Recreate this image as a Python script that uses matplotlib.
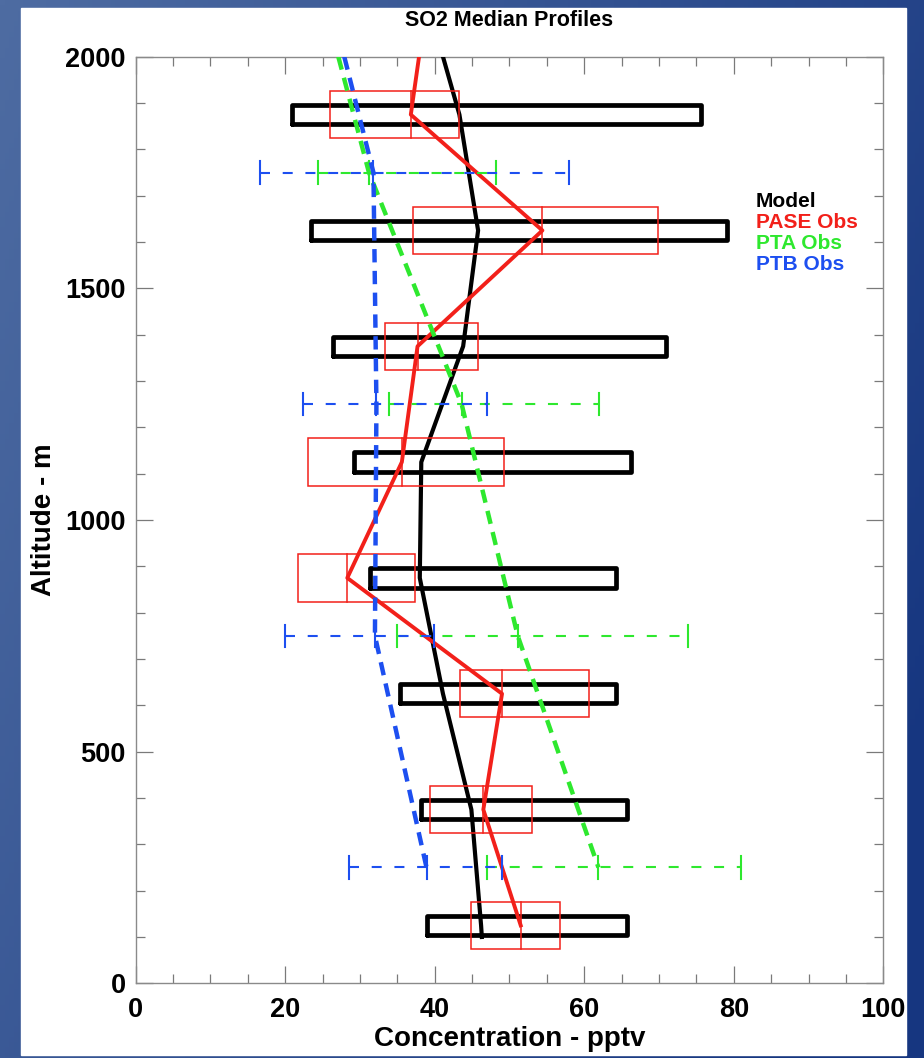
import numpy as np
import matplotlib
matplotlib.use('Agg')
import matplotlib.pyplot as plt
from matplotlib.patches import Rectangle
from matplotlib.ticker import MultipleLocator

plt.rcParams['font.family'] = ['Liberation Sans', 'DejaVu Sans']
plt.rcParams['font.weight'] = 'bold'

# model (black boxes + median line)
model_alt = [1875, 1625, 1375, 1125, 875, 625, 375, 125]
model_lo = [20.9, 23.5, 26.4, 29.2, 31.3, 35.3, 38.2, 38.9]
model_hi = [75.6, 79.1, 70.9, 66.2, 64.3, 64.2, 65.7, 65.7]
model_line_alt = [2000, 1875, 1625, 1375, 1125, 875, 625, 375, 125, 100]
model_line_val = [41.1, 43.3, 45.8, 43.8, 38.2, 38.0, 41.1, 44.9, 46.2, 46.3]

# PASE obs (red boxes)
pase_alt = [1875, 1625, 1375, 1125, 875, 625, 375, 125]
pase_lo = [26.0, 37.1, 33.3, 23.0, 21.7, 43.4, 39.3, 44.9]
pase_med = [36.8, 54.4, 37.7, 35.6, 28.3, 49.0, 46.5, 51.5]
pase_hi = [43.2, 69.8, 45.8, 49.3, 37.4, 60.6, 53.0, 56.8]
pase_top = 37.9  # where the red line leaves the top of the plot

# PTA / PTB obs (dashed ranges)
pt_alt = [1750, 1250, 750, 250]
pta_lo = [24.4, 33.9, 34.9, 47.0]
pta_med = [31.2, 43.6, 51.1, 61.9]
pta_hi = [48.2, 62.0, 73.9, 81.0]
pta_top = 27.1
ptb_lo = [16.6, 22.4, 20.0, 28.5]
ptb_med = [31.8, 32.2, 32.0, 38.9]
ptb_hi = [58.0, 47.0, 39.9, 49.0]
ptb_top = 27.9

legend_names = ['Model', 'PASE Obs', 'PTA Obs', 'PTB Obs']

RED = '#f2201a'
GREEN = '#2ee82e'
BLUE = '#1d4ff0'
colors = ['black', RED, GREEN, BLUE]

W, H = 924, 1058
fig = plt.figure(figsize=(W / 100, H / 100), dpi=100)

# background: blue gradient + white panel
bg = fig.add_axes([0, 0, 1, 1], zorder=-10)
gx, gy = np.meshgrid(np.linspace(0, 1, 200), np.linspace(0, 1, 200))
t = np.clip(0.75 * gx + 0.35 * gy, 0, 1)
c0 = np.array([78, 108, 162]) / 255
c1 = np.array([22, 54, 128]) / 255
img = c0 + (c1 - c0) * t[..., None]
bg.imshow(img, extent=[0, 1, 0, 1], aspect='auto', origin='upper')
bg.add_patch(Rectangle((21 / W, 1 - 1055 / H), (906 - 21) / W, (1055 - 8) / H,
                       transform=bg.transAxes, color='white'))
bg.set_xlim(0, 1); bg.set_ylim(0, 1)
bg.axis('off')

x0, x1, y0, y1 = 135.7, 883.3, 56.7, 983.3
ax = fig.add_axes([x0 / W, 1 - y1 / H, (x1 - x0) / W, (y1 - y0) / H])
ax.set_xlim(0, 100)
ax.set_ylim(0, 2000)

# model boxes
bh = 21
for a, lo, hi in zip(model_alt, model_lo, model_hi):
    ax.plot([lo, hi, hi, lo, lo], [a - bh, a - bh, a + bh, a + bh, a - bh],
            color='black', lw=3.4, solid_joinstyle='round', solid_capstyle='round', zorder=2)
ax.plot(model_line_val, model_line_alt, color='black', lw=3.0, zorder=3)

# PASE boxes
rh = 51
for a, lo, md, hi in zip(pase_alt, pase_lo, pase_med, pase_hi):
    ax.add_patch(Rectangle((lo, a - rh), hi - lo, 2 * rh, fill=False,
                           edgecolor=RED, lw=1.1, zorder=4))
    ax.plot([md, md], [a - rh, a + rh], color=RED, lw=1.1, zorder=4)
ax.plot([pase_top] + pase_med, [2000] + pase_alt, color=RED, lw=2.8, zorder=5)

# PTA / PTB ranges
ch = 24
for lo_s, md_s, hi_s, top, col, z in [(pta_lo, pta_med, pta_hi, pta_top, GREEN, 6),
                                      (ptb_lo, ptb_med, ptb_hi, ptb_top, BLUE, 7)]:
    for a, lo, md, hi in zip(pt_alt, lo_s, md_s, hi_s):
        ax.plot([lo, hi], [a, a], color=col, lw=1.5, linestyle=(0, (4.8, 6.1)), zorder=z)
        for xv in (lo, md, hi):
            ax.plot([xv, xv], [a - ch, a + ch], color=col, lw=1.5, zorder=z)
    ax.plot([top] + md_s, [2000] + pt_alt, color=col, lw=3.2,
            linestyle=(0, (3.0, 1.9)), zorder=z)

# legend as coloured text
for i, (name, col) in enumerate(zip(legend_names, colors)):
    ax.text(0.8297, 0.8435 - i * 0.0227, name, color=col, fontsize=15,
            fontweight='bold', va='center', ha='left', transform=ax.transAxes)

ax.xaxis.set_major_locator(MultipleLocator(20))
ax.xaxis.set_minor_locator(MultipleLocator(5))
ax.yaxis.set_major_locator(MultipleLocator(500))
ax.yaxis.set_minor_locator(MultipleLocator(100))
ax.tick_params(which='both', direction='in', top=True, right=True,
               color='#7a7a7a', width=0.9, labelsize=19.5)
ax.tick_params(which='major', length=12)
ax.tick_params(which='minor', length=6.5)
ax.tick_params(axis='x', pad=10)
ax.tick_params(axis='y', pad=7)
for sp in ax.spines.values():
    sp.set_color('#8a8a8a')
    sp.set_linewidth(1.0)

ax.set_title('SO2 Median Profiles', fontsize=15.5, fontweight='bold', pad=22)
ax.set_xlabel('Concentration - pptv', fontsize=20, fontweight='bold', labelpad=2)
ax.set_ylabel('Altitude - m', fontsize=20, fontweight='bold', labelpad=6)

fig.savefig('out.png', dpi=100)
